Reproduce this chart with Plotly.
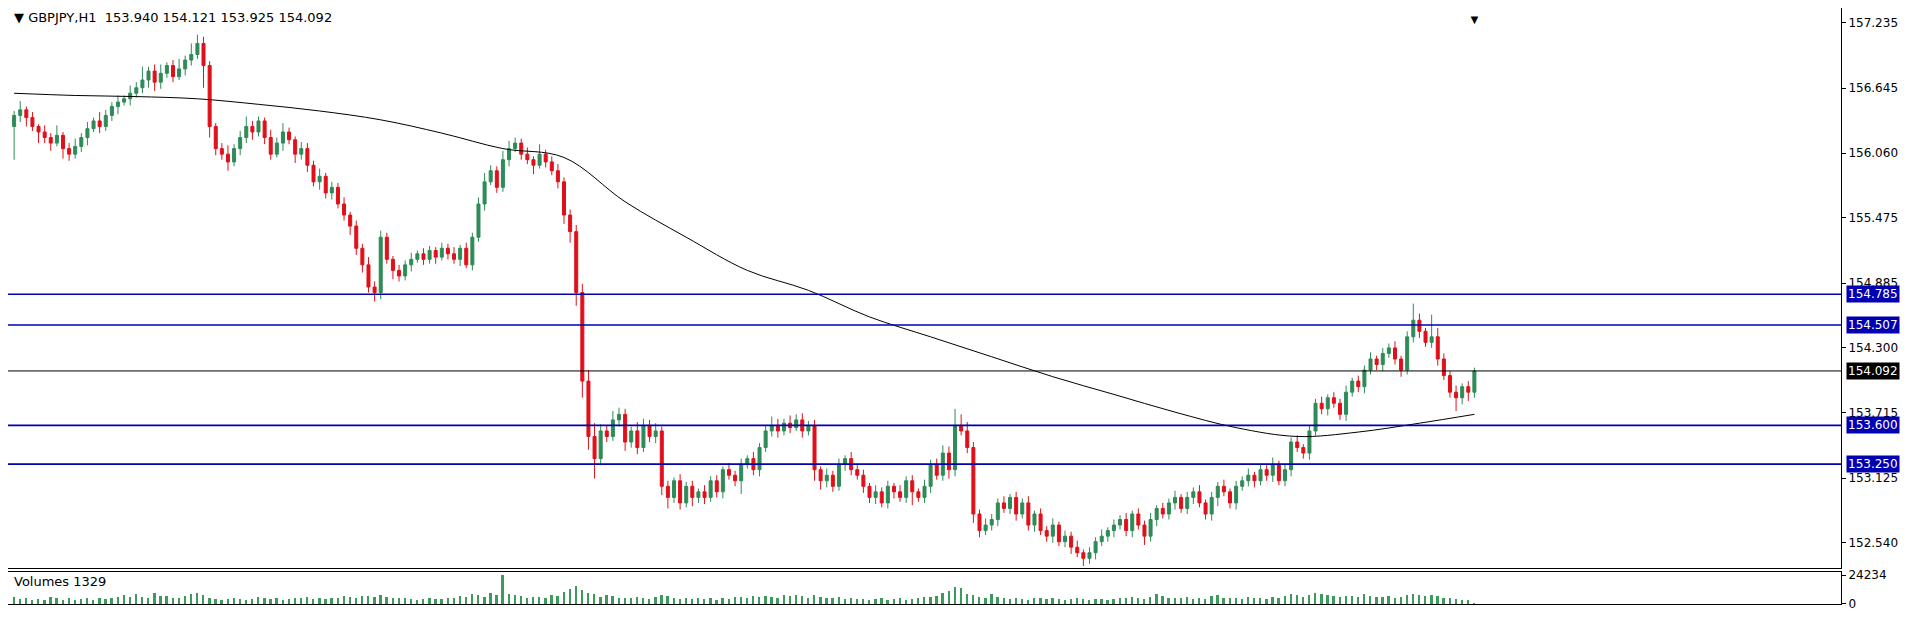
import plotly.graph_objects as go

# closes, one per H1 bar
closes = [
    156.40,156.45,156.38,156.30,156.25,156.20,156.15,156.22,156.10,156.05,156.12,156.20,156.28,156.35,156.30,156.40,156.48,156.52,156.55,156.60,
    156.65,156.72,156.80,156.70,156.78,156.85,156.75,156.82,156.90,156.95,157.05,156.85,156.30,156.10,156.05,155.98,156.10,156.20,156.30,156.25,
    156.35,156.20,156.05,156.15,156.25,156.18,156.05,156.10,155.95,155.80,155.85,155.70,155.75,155.60,155.50,155.40,155.20,155.05,154.85,154.80,
    155.30,155.10,155.00,154.95,155.05,155.10,155.15,155.10,155.18,155.12,155.20,155.15,155.10,155.20,155.05,155.30,155.60,155.80,155.90,155.75,
    156.00,156.10,156.15,156.05,156.00,155.95,156.05,155.98,155.90,155.80,155.50,155.35,154.80,154.00,153.50,153.30,153.55,153.50,153.65,153.70,
    153.45,153.55,153.40,153.60,153.50,153.55,153.05,152.95,153.10,152.90,153.05,152.95,153.00,152.95,153.10,153.00,153.20,153.15,153.10,153.25,
    153.30,153.20,153.40,153.55,153.60,153.55,153.62,153.58,153.65,153.55,153.60,153.20,153.10,153.15,153.05,153.25,153.30,153.20,153.15,153.05,
    152.95,153.00,152.90,153.05,153.00,152.95,153.10,153.00,152.95,153.05,153.25,153.15,153.35,153.20,153.60,153.55,153.40,152.80,152.65,152.70,
    152.75,152.90,152.85,152.95,152.80,152.90,152.70,152.80,152.65,152.60,152.70,152.55,152.60,152.50,152.45,152.40,152.45,152.55,152.60,152.65,
    152.70,152.75,152.65,152.80,152.70,152.60,152.75,152.85,152.80,152.90,152.95,152.85,152.95,153.00,152.90,152.80,152.95,153.05,153.00,152.90,
    153.05,153.10,153.15,153.10,153.20,153.15,153.25,153.10,153.20,153.45,153.40,153.35,153.55,153.80,153.75,153.85,153.80,153.70,153.90,154.00,
    153.95,154.10,154.20,154.15,154.25,154.30,154.20,154.10,154.40,154.55,154.45,154.35,154.40,154.20,154.05,153.90,153.85,153.95,153.90,154.092,
]
first_open = 156.30

# wick lengths in hundredths of a yen
upper = [
    4,8,3,5,2,6,4,9,3,5,7,4,6,3,8,5,4,6,3,7,
    5,12,4,6,8,3,5,9,4,10,8,6,4,3,5,8,4,6,9,5,
    4,3,7,5,8,4,3,6,5,4,7,3,5,4,6,3,5,4,7,5,
    6,4,3,5,4,6,3,5,4,3,5,4,6,3,5,4,6,8,5,4,
    8,7,5,4,6,3,9,4,5,6,4,5,6,8,10,12,6,5,8,6,
    5,4,8,6,5,7,4,5,3,6,4,5,3,6,4,5,3,6,4,5,
    3,6,4,5,8,6,4,7,5,6,4,5,3,6,4,5,3,6,4,5,
    3,6,4,5,3,6,4,5,3,6,4,5,7,6,15,10,8,5,4,6,
    5,4,6,3,5,4,6,3,5,4,6,3,5,4,6,3,5,4,6,3,
    5,4,6,3,5,4,6,3,5,4,6,3,5,4,6,3,5,4,6,3,
    5,4,6,3,5,4,6,3,5,4,6,3,5,4,6,3,5,4,6,3,
    5,4,6,3,5,4,6,3,5,15,6,3,20,8,5,4,6,3,5,3,
]
lower = [
    30,6,8,4,10,5,7,3,9,6,4,5,7,3,6,4,5,7,3,6,
    4,5,7,8,6,4,5,3,6,5,4,20,10,6,5,8,4,6,5,7,
    4,6,5,3,7,4,8,5,6,4,7,5,6,4,5,8,6,7,5,8,
    6,4,8,5,4,6,3,5,4,6,3,5,4,6,3,5,4,6,3,5,
    4,6,3,5,4,8,3,5,4,6,8,10,12,15,12,18,6,5,4,6,
    8,5,6,4,5,6,8,10,5,6,4,8,5,6,4,5,6,4,5,12,
    4,5,6,4,5,6,4,5,3,6,4,10,8,6,5,4,6,5,4,6,
    5,6,4,5,6,4,5,12,4,5,6,4,5,8,6,4,5,8,6,4,
    5,6,4,5,6,4,5,6,4,5,6,4,5,6,4,7,5,6,4,5,
    6,4,5,6,4,8,5,6,4,5,6,4,5,6,4,5,6,8,4,5,
    6,4,5,6,4,5,6,4,5,6,4,5,6,4,5,6,4,5,6,4,
    5,6,4,5,6,4,5,6,4,5,6,4,5,6,4,5,12,6,8,5,
]

volumes = [
    6000,4500,5200,3800,4100,3500,6200,4800,3900,5100,3600,4400,5600,3700,4900,4200,5300,6100,7400,5800,
    8200,6400,5100,9400,7200,6600,5400,4800,6900,8800,9200,7600,5000,4300,3900,4700,5600,4100,3600,4200,
    5800,4900,4400,5200,3900,4600,5100,5500,6100,4700,5300,4200,4800,5600,6500,6100,5400,7200,6800,6000,
    7800,6300,5200,4800,5600,4400,3900,4600,5100,4200,4700,5400,4800,6600,5900,8400,7800,6200,9100,7600,
    24234,8800,7400,6500,5200,6100,5800,5400,7300,6600,10200,12400,15600,11800,9600,8400,6200,7900,6800,5600,
    5200,4800,6300,5400,4700,6000,7800,6600,5100,4400,5600,4700,5200,4100,4800,3900,5300,4600,6200,5800,
    5100,6700,5900,7200,6200,5400,8100,6800,7400,6600,5200,7600,6400,5300,4800,6100,4200,5600,4700,4000,
    3800,4500,5200,3600,4300,4900,3800,4400,5100,5700,6400,7200,9800,11200,14600,13400,8800,7600,6200,5400,
    8600,6400,5200,4700,5600,4300,3900,4800,5400,4600,5100,4200,3800,4600,5200,4400,3900,4500,4100,3700,
    4300,5200,4800,6400,5500,4700,6100,8200,7100,5600,4900,5300,6200,4600,5100,4400,6800,7400,5600,4800,
    5200,4600,5800,4900,5400,4700,6400,5200,7100,8400,7600,6200,7800,9600,8800,7400,6600,5800,6900,7200,
    6400,8200,7100,6300,5800,6600,5200,6000,7900,8600,7400,6800,7700,6500,5600,4800,4200,3600,3200,1329,
]

# 200-period moving average, sampled every 10 bars
ma_bars = [0,10,20,30,40,50,60,70,80,90,100,110,120,130,140,150,160,170,180,190,200,210,220,230,239]
ma_vals = [156.60,156.58,156.57,156.55,156.50,156.44,156.36,156.24,156.10,156.02,155.62,155.30,155.00,154.82,154.58,154.40,154.22,154.04,153.88,153.72,153.58,153.50,153.54,153.62,153.70]

levels = [154.785, 154.507, 153.600, 153.250]
last_price = 154.092
y_ticks = [157.235, 156.645, 156.060, 155.475, 154.885, 154.300, 153.715, 153.125, 152.540]

n = len(closes)
bars = list(range(n))
opens = [first_open] + closes[:-1]
highs = [max(o, c) + u / 100 for o, c, u in zip(opens, closes, upper)]
lows = [min(o, c) - l / 100 for o, c, l in zip(opens, closes, lower)]

fig = go.Figure()
fig.add_trace(go.Candlestick(
    x=bars, open=opens, high=highs, low=lows, close=closes,
    increasing=dict(line=dict(color='#2e8b57', width=1), fillcolor='#2e8b57'),
    decreasing=dict(line=dict(color='#e0101a', width=1), fillcolor='#e0101a'),
    whiskerwidth=0, xaxis='x', yaxis='y', showlegend=False))
fig.add_trace(go.Scatter(x=ma_bars, y=ma_vals, mode='lines', line=dict(color='black', width=1, shape='spline'),
                         xaxis='x', yaxis='y', showlegend=False, hoverinfo='skip'))
fig.add_trace(go.Bar(x=bars, y=volumes, marker=dict(color='#3c9a5c', line=dict(width=0)), width=0.3,
                     xaxis='x2', yaxis='y2', showlegend=False))

for lv in levels:
    fig.add_shape(type='line', xref='paper', x0=0, x1=1, yref='y', y0=lv, y1=lv,
                  line=dict(color='#0000b0', width=1.6))
    fig.add_annotation(xref='paper', x=1.003, yref='y', y=lv, text='%.3f' % lv, showarrow=False,
                       xanchor='left', bgcolor='#0000b0', font=dict(color='white', size=12, family='DejaVu Sans'),
                       borderpad=1)
fig.add_shape(type='line', xref='paper', x0=0, x1=1, yref='y', y0=last_price, y1=last_price,
              line=dict(color='black', width=1))
fig.add_annotation(xref='paper', x=1.003, yref='y', y=last_price, text='%.3f' % last_price, showarrow=False,
                   xanchor='left', bgcolor='black', font=dict(color='white', size=12, family='DejaVu Sans'),
                   borderpad=1)

fig.add_annotation(xref='paper', yref='paper', x=0.002, y=1.0, xanchor='left', yanchor='top', showarrow=False,
                   text='▼ GBPJPY,H1  153.940 154.121 153.925 154.092',
                   font=dict(size=13, color='black', family='DejaVu Sans'))
fig.add_annotation(xref='paper', yref='paper', x=0.002, y=0.054, xanchor='left', yanchor='top', showarrow=False,
                   text='Volumes 1329', font=dict(size=13, color='black', family='DejaVu Sans'))
fig.add_annotation(xref='paper', yref='paper', x=0.8, y=1.0, xanchor='center', yanchor='top', showarrow=False,
                   text='▼', font=dict(size=13, color='black'))

ax = dict(showgrid=False, zeroline=False, showline=True, linecolor='black', mirror=True,
          ticks='outside', ticklen=4, tickcolor='black', side='right', automargin=False,
          tickfont=dict(size=12, color='black', family='DejaVu Sans'))
fig.update_layout(
    width=1910, height=612, plot_bgcolor='white', paper_bgcolor='white',
    margin=dict(l=0, r=77, t=0, b=16),
    xaxis=dict(range=[-1, 299], domain=[0, 1], showticklabels=False, showgrid=False, zeroline=False,
               automargin=False, showline=True, linecolor='black', mirror=True, rangeslider=dict(visible=False)),
    xaxis2=dict(range=[-1, 299], domain=[0, 1], anchor='y2', showticklabels=False, showgrid=False,
                automargin=False, zeroline=False, showline=True, linecolor='black', mirror=True),
    yaxis=dict(range=[152.31, 157.37], domain=[0.06, 1], tickvals=y_ticks,
               ticktext=['%.3f' % t for t in y_ticks], anchor='x', **ax),
    yaxis2=dict(range=[0, 27000], domain=[0, 0.054], tickvals=[0, 24234], ticktext=['0', '24234'],
                anchor='x2', **ax),
    bargap=0,
)
fig.write_html("out.html")
